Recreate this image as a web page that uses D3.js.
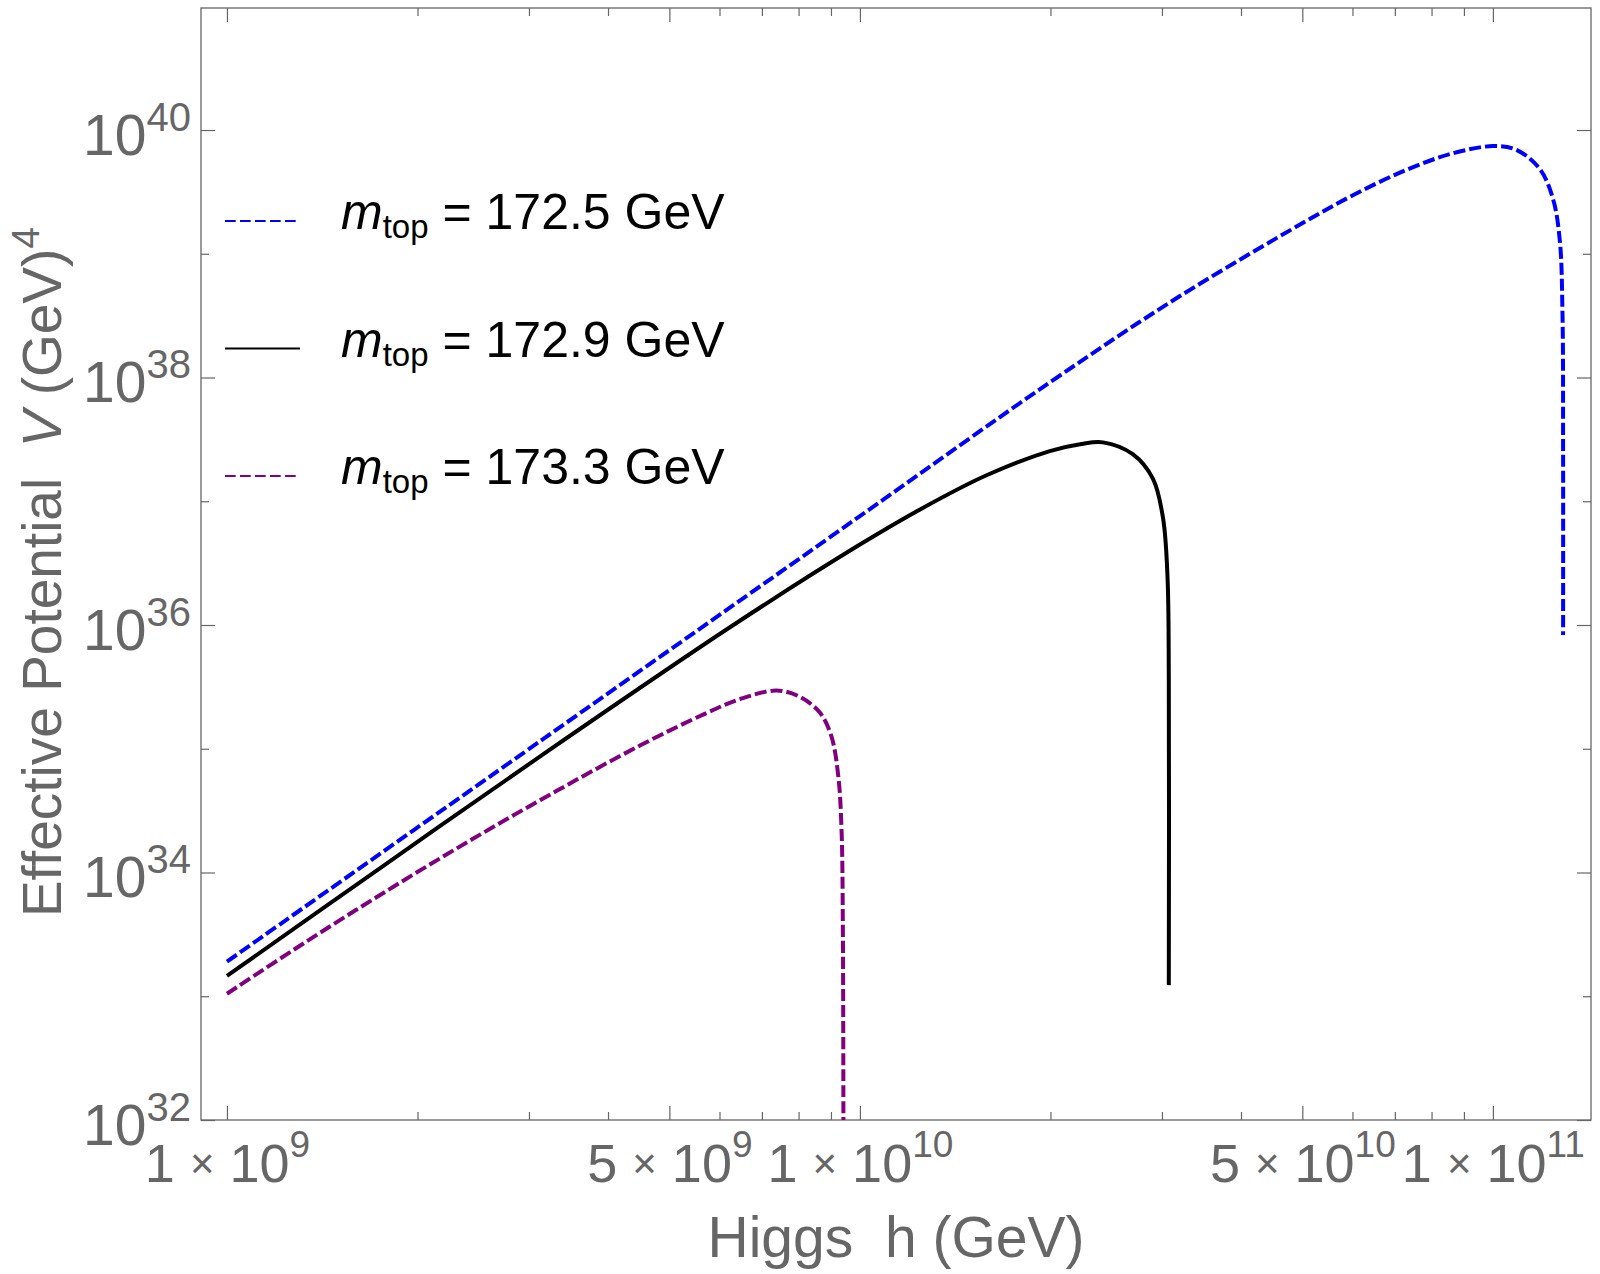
<!DOCTYPE html>
<html>
<head>
<meta charset="utf-8">
<script src="https://cdn.jsdelivr.net/npm/d3@7"></script>
<style>
  body { margin: 0; background: #fff; }
  svg { display: block; font-family: 'Liberation Sans', Arial, sans-serif; }
  text { white-space: pre; }
</style>
</head>
<body>
<svg id="chart" width="1600" height="1274"></svg>
<script>
// Higgs field value h (GeV) and effective potential V (GeV^4)
const hBlue = [1e9, 3.162e9, 1e10, 1.995e10, 3.162e10, 5.012e10, 5.943e10, 7.129e10, 8.551e10,
               1e11, 1.089e11, 1.186e11, 1.245e11, 1.276e11, 1.288e11, 1.291e11, 1.291e11]
const vBlue = [1.905e33, 1.202e35, 7.586e36, 9.120e37, 4.365e38, 1.778e39, 2.884e39, 4.519e39, 6.383e39,
               7.413e39, 6.918e39, 4.842e39, 2.754e39, 1.259e39, 3.388e38, 2.455e37, 8.318e35]

const hBlack = [1e9, 1.778e9, 3.162e9, 6.310e9, 1e10, 1.259e10, 1.585e10, 1.995e10, 2.239e10, 2.421e10,
                2.698e10, 2.904e10, 3.013e10, 3.062e10, 3.076e10, 3.076e10]
const vBlack = [1.459e33, 1.159e34, 9.057e34, 1e36, 4.467e36, 8.872e36, 1.622e37, 2.541e37, 2.904e37, 2.992e37,
                2.399e37, 1.514e37, 7.244e36, 2.399e36, 3.802e35, 1.230e33]

const hPurple = [1e9, 1.324e9, 1.799e9, 2.443e9, 3.319e9, 4.508e9, 5.675e9, 6.457e9, 7.379e9,
                 8.035e9, 8.650e9, 9.016e9, 9.247e9, 9.354e9, 9.397e9, 9.419e9]
const vPurple = [1.047e33, 2.692e33, 7.244e33, 1.862e34, 4.571e34, 1.072e35, 1.905e35, 2.512e35, 2.951e35,
                 2.630e35, 1.950e35, 1.259e35, 5.888e34, 2.188e34, 3.981e33, 3.162e31]

const seriesNames = ['172.5', '172.9', '173.3']
const seriesColors = ['#0000ff', '#000000', '#800080']
const seriesDashes = ['12,4', null, '12,4']

const xMajor = [1e9, 5e9, 1e10, 5e10, 1e11]
const xMantissa = ['1', '5', '1', '5', '1']
const xExponent = ['9', '9', '10', '10', '11']
const yMajorExp = [32, 34, 36, 38, 40]
const yMinorExp = [33, 35, 37, 39]

const gray = '#666666'
const svg = d3.select('#chart')
const plotLeft = 201, plotRight = 1591, plotTop = 8, plotBottom = 1120

const x = d3.scaleLog().domain([10 ** 8.959, 10 ** 11.155]).range([plotLeft, plotRight])
const y = d3.scaleLog().domain([1e32, 10 ** 40.986]).range([plotBottom, plotTop])

svg.append('rect').attr('width', 1600).attr('height', 1274).attr('fill', '#fff')

svg.append('clipPath').attr('id', 'plotClip')
  .append('rect').attr('x', plotLeft).attr('y', plotTop)
  .attr('width', plotRight - plotLeft).attr('height', plotBottom - plotTop)

/* Axes: ticks point inward on all four sides */
const xMinor = x.ticks().filter(d => !xMajor.some(m => Math.abs(m - d) / m < 1e-6))
const yMajor = yMajorExp.map(e => 10 ** e)
const yMinor = yMinorExp.map(e => 10 ** e)

const styleAxis = g => {
  g.select('.domain').remove()
  g.selectAll('.tick line').attr('stroke', gray).attr('stroke-width', 1.2)
}

svg.append('g').attr('transform', `translate(0,${plotBottom})`)
  .call(d3.axisBottom(x).tickValues(xMinor).tickSize(-8).tickFormat('')).call(styleAxis)
const xAxisMajor = svg.append('g').attr('transform', `translate(0,${plotBottom})`)
  .call(d3.axisBottom(x).tickValues(xMajor).tickSize(-14).tickFormat('')).call(styleAxis)
svg.append('g').attr('transform', `translate(0,${plotTop})`)
  .call(d3.axisTop(x).tickValues(xMinor).tickSize(-8).tickFormat('')).call(styleAxis)
svg.append('g').attr('transform', `translate(0,${plotTop})`)
  .call(d3.axisTop(x).tickValues(xMajor).tickSize(-14).tickFormat('')).call(styleAxis)

svg.append('g').attr('transform', `translate(${plotLeft},0)`)
  .call(d3.axisLeft(y).tickValues(yMinor).tickSize(-8).tickFormat('')).call(styleAxis)
const yAxisMajor = svg.append('g').attr('transform', `translate(${plotLeft},0)`)
  .call(d3.axisLeft(y).tickValues(yMajor).tickSize(-14).tickFormat('')).call(styleAxis)
svg.append('g').attr('transform', `translate(${plotRight},0)`)
  .call(d3.axisRight(y).tickValues(yMinor).tickSize(-8).tickFormat('')).call(styleAxis)
svg.append('g').attr('transform', `translate(${plotRight},0)`)
  .call(d3.axisRight(y).tickValues(yMajor).tickSize(-14).tickFormat('')).call(styleAxis)

svg.append('rect')
  .attr('x', plotLeft).attr('y', plotTop)
  .attr('width', plotRight - plotLeft).attr('height', plotBottom - plotTop)
  .attr('fill', 'none').attr('stroke', gray).attr('stroke-width', 1.3)

// tick labels: m x 10^k  and  10^k
xAxisMajor.selectAll('.tick').each(function (d, i) {
  const t = d3.select(this).select('text')
    .attr('y', 62).attr('dy', null).attr('fill', gray)
    .attr('font-size', 54).attr('text-anchor', 'middle')
  t.append('tspan').text(xMantissa[i] + ' ')
  t.append('tspan').attr('font-size', 42).attr('dy', -4).text('\u00d7')
  t.append('tspan').attr('dy', 4).text(' 10')
  t.append('tspan').attr('font-size', 37).attr('dy', -25).text(xExponent[i])
})

yAxisMajor.selectAll('.tick').each(function (d, i) {
  const t = d3.select(this).select('text')
    .attr('x', -10).attr('dy', null).attr('y', 24).attr('fill', gray)
    .attr('font-size', 57).attr('text-anchor', 'end')
  t.append('tspan').text('10')
  t.append('tspan').attr('font-size', 40).attr('dy', -24).text(yMajorExp[i])
})

/* Curves */
const line = d3.line()
  .x(d => x(d[0]))
  .y(d => y(d[1]))
  .curve(d3.curveCatmullRom.alpha(0.5))

const series = [
  { h: hBlue, v: vBlue },
  { h: hBlack, v: vBlack },
  { h: hPurple, v: vPurple }
].map((s, i) => ({ ...s, name: seriesNames[i], color: seriesColors[i], dash: seriesDashes[i] }))

svg.append('g').attr('clip-path', 'url(#plotClip)')
  .selectAll('path')
  .data(series)
  .join('path')
  .attr('d', s => line(s.h.map((h, i) => [h, s.v[i]])))
  .attr('fill', 'none')
  .attr('stroke', s => s.color)
  .attr('stroke-width', 4)
  .attr('stroke-dasharray', s => s.dash)

/* Legend */
const legend = svg.append('g')
  .selectAll('g')
  .data(series)
  .join('g')
  .attr('transform', (s, i) => `translate(225,${221 + i * 127.5})`)

legend.append('line')
  .attr('x1', 0).attr('x2', 75)
  .attr('stroke', s => s.color)
  .attr('stroke-width', 2.2)
  .attr('stroke-dasharray', s => s.dash ? '10.7,4.3' : null)

const lt = legend.append('text')
  .attr('x', 116).attr('y', 8)
  .attr('font-size', 50).attr('fill', '#000')
lt.append('tspan').attr('font-style', 'italic').text('m')
lt.append('tspan').attr('font-size', 33).attr('dy', 9).text('top')
lt.append('tspan').attr('dy', -9).text(s => ` = ${s.name} GeV`)

/* Axis titles */
svg.append('text')
  .attr('x', (plotLeft + plotRight) / 2).attr('y', 1257)
  .attr('text-anchor', 'middle').attr('font-size', 57).attr('fill', gray)
  .text('Higgs  h (GeV)')

const yt = svg.append('text')
  .attr('transform', `translate(61,572) rotate(-90)`)
  .attr('text-anchor', 'middle').attr('font-size', 55).attr('fill', gray)
yt.append('tspan').text('Effective Potential  ')
yt.append('tspan').attr('font-style', 'italic').text('V')
yt.append('tspan').text(' (GeV)')
yt.append('tspan').attr('font-size', 39).attr('dy', -22).text('4')
</script>
</body>
</html>
